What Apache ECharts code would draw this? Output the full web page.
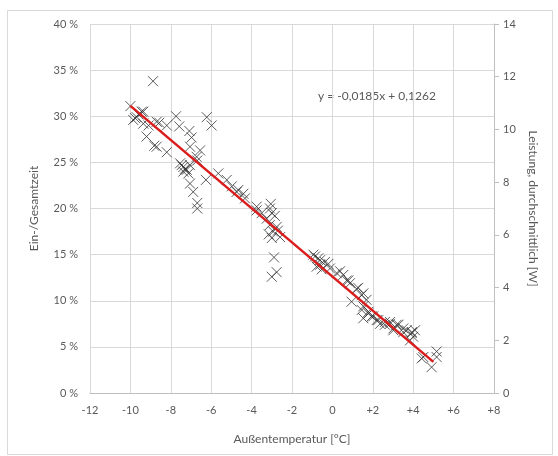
<!DOCTYPE html>
<html>
<head>
<meta charset="utf-8">
<script src="https://cdn.jsdelivr.net/npm/echarts@6/dist/echarts.min.js"></script>
<style>html,body{margin:0;padding:0;background:#fff}#c{width:558px;height:456px}</style>
</head>
<body>
<div id="c"></div>
<script>
// Measurements: [Außentemperatur °C, Ein-/Gesamtzeit %]
const measurements = [
  [-10.0,31.1],[-9.86,29.6],[-9.77,29.8],[-9.69,29.9],[-9.6,30.2],[-9.44,30.5],[-9.36,29.2],[-9.36,30.5],
  [-9.2,27.8],[-9.1,29.0],[-8.88,33.8],[-8.82,26.8],[-8.7,29.4],[-8.7,26.7],[-8.57,29.3],[-8.2,29.0],[-8.2,26.1],
  [-7.74,30.0],[-7.58,28.9],[-7.54,24.9],[-7.46,24.7],[-7.38,24.5],[-7.38,24.0],[-7.3,24.3],[-7.21,24.2],
  [-7.13,23.8],[-7.08,28.4],[-7.05,26.7],[-7.05,24.7],[-7.05,22.7],[-6.97,27.7],[-6.89,21.8],[-6.72,25.6],
  [-6.69,25.2],[-6.69,20.6],[-6.69,20.0],[-6.55,26.3],[-6.26,23.1],[-6.22,29.9],[-5.98,29.0],
  [-5.65,23.8],[-5.23,23.1],[-4.98,22.4],[-4.74,21.8],[-4.66,22.0],[-4.41,21.6],[-4.33,21.1],
  [-3.75,20.2],[-3.75,19.8],[-3.5,19.5],[-3.09,20.0],[-3.05,20.5],[-3.0,19.5],[-3.25,18.9],[-2.85,19.2],
  [-3.1,18.2],[-2.76,18.0],[-2.7,17.6],[-2.93,17.5],[-3.15,17.2],[-3.0,16.8],[-2.59,16.9],
  [-2.89,14.7],[-2.76,13.1],[-3.0,12.6],
  [-0.94,15.0],[-0.86,14.8],[-0.7,14.6],[-0.61,14.4],[-0.78,13.7],[-0.61,13.9],[-0.37,14.2],[-0.2,14.0],
  [-0.53,13.4],[-0.12,13.5],[0.21,13.0],[0.38,13.2],[0.54,12.8],[0.71,12.2],[0.87,11.9],[0.79,12.2],
  [1.2,11.3],[1.28,11.4],[1.53,10.8],[0.95,9.9],
  [1.45,10.6],[1.69,10.1],[1.53,9.4],[1.45,9.0],[1.78,8.8],[1.78,8.6],[1.53,8.1],[1.94,8.3],[2.02,8.3],
  [2.19,7.9],[2.27,7.9],[2.36,7.5],[2.6,7.4],[2.6,7.7],[2.85,7.7],[2.85,7.5],[3.02,7.0],[3.18,7.4],
  [3.27,7.4],[3.02,6.8],[3.51,6.6],[3.51,7.0],[3.68,6.8],[3.93,6.5],[3.93,6.6],[4.09,6.8],[4.0,6.1],[3.84,5.7],
  [4.42,3.75],[4.5,3.9],[5.16,4.5],[5.16,3.9],[4.91,2.8]
];
// Linear trend line endpoints (y = -0,0185x + 0,1262) in %
const trendLine = [[-10, 31.12], [5, 3.37]];
const trendLabel = 'y = -0,0185x + 0,1262';
const xTitle = 'Außentemperatur [°C]';
const yLeftTitle = 'Ein-/Gesamtzeit';
const yRightTitle = 'Leistung, durchschnittlich [W]';

const txt = '#595959', grid = '#d9d9d9', font = 'Lato';
const chart = echarts.init(document.getElementById('c'), null, {renderer: 'canvas'});
chart.setOption({
  animation: false,
  backgroundColor: '#fff',
  textStyle: {fontFamily: font},
  grid: {left: 90, right: 64, top: 24, bottom: 63},
  graphic: [
    {type: 'rect', shape: {x: 7.5, y: 10.5, width: 545, height: 444}, style: {fill: 'none', stroke: '#d9d9d9', lineWidth: 1}, z: -1},
    {type: 'text', left: 318, top: 90, style: {text: trendLabel, fill: txt, font: '12px Lato'}}
  ],
  xAxis: {
    type: 'value', min: -12, max: 8, interval: 2,
    name: xTitle, nameLocation: 'middle', nameGap: 40,
    nameTextStyle: {color: txt, fontSize: 12, fontFamily: font},
    axisLine: {show: true, lineStyle: {color: '#bfbfbf'}},
    axisTick: {show: false},
    axisLabel: {color: txt, fontSize: 11, margin: 12, formatter: v => v > 0 ? '+' + v : String(v)},
    splitLine: {show: true, lineStyle: {color: grid}}
  },
  yAxis: [
    {
      type: 'value', min: 0, max: 40, interval: 5, position: 'left',
      name: yLeftTitle, nameLocation: 'middle', nameGap: 50, nameRotate: 90,
      nameTextStyle: {color: txt, fontSize: 12, fontFamily: font},
      axisLine: {show: false}, axisTick: {show: false},
      axisLabel: {color: txt, fontSize: 11, margin: 12, formatter: '{value} %'},
      splitLine: {show: true, lineStyle: {color: grid}}
    },
    {
      type: 'value', min: 0, max: 14, interval: 2, position: 'right',
      name: yRightTitle, nameLocation: 'middle', nameGap: 33, nameRotate: -90,
      nameTextStyle: {color: txt, fontSize: 12, fontFamily: font},
      axisLine: {show: true, lineStyle: {color: '#bfbfbf'}},
      axisTick: {show: true, inside: false, length: 5, lineStyle: {color: '#bfbfbf'}},
      axisLabel: {color: txt, fontSize: 11, margin: 9},
      splitLine: {show: false}
    }
  ],
  series: [
    {
      type: 'scatter', data: measurements, yAxisIndex: 0,
      symbol: 'path://M0,0L10,10M10,0L0,10', symbolSize: 10,
      itemStyle: {color: 'none', borderColor: '#333', borderWidth: 1}
    },
    {
      type: 'line', data: trendLine, yAxisIndex: 0, symbol: 'none',
      lineStyle: {color: '#dc1c1c', width: 2.5}, z: 5
    }
  ]
});
</script>
</body>
</html>
